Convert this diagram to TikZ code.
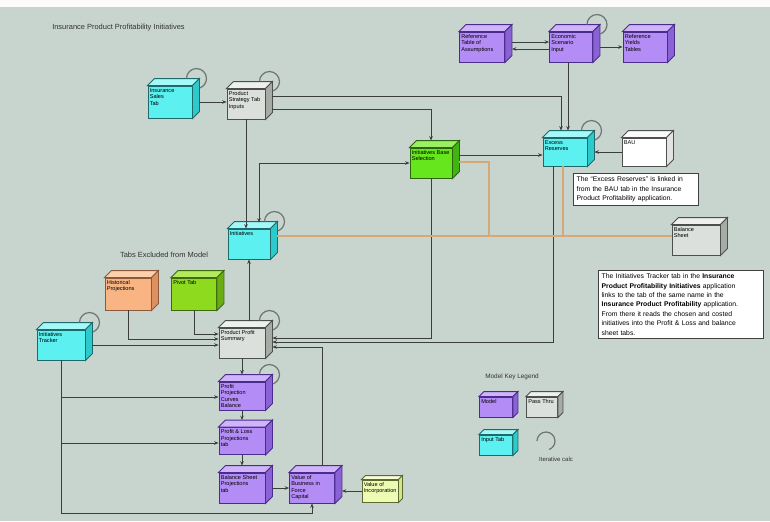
\documentclass[tikz,border=0pt]{standalone}
\usepackage{fontspec}
\setmainfont{Liberation Sans}
\usetikzlibrary{calc,arrows.meta}

% cube palettes: F front, T top, S side, D outline
\definecolor{cyF}{HTML}{5CF0F0}\definecolor{cyT}{HTML}{A4F8F8}\definecolor{cyS}{HTML}{2CCACA}\definecolor{cyD}{HTML}{1E6A6A}
\definecolor{puF}{HTML}{B48CF6}\definecolor{puT}{HTML}{CFB4FA}\definecolor{puS}{HTML}{8A62D6}\definecolor{puD}{HTML}{4A2C8C}
\definecolor{grF}{HTML}{DCE0DC}\definecolor{grT}{HTML}{EEF0EE}\definecolor{grS}{HTML}{A6ABA6}\definecolor{grD}{HTML}{4C504C}
\definecolor{gnF}{HTML}{66E61C}\definecolor{gnT}{HTML}{9AF062}\definecolor{gnS}{HTML}{42B410}\definecolor{gnD}{HTML}{2C6410}
\definecolor{orF}{HTML}{F8B482}\definecolor{orT}{HTML}{FBD0AA}\definecolor{orS}{HTML}{DE9060}\definecolor{orD}{HTML}{8A5A3A}
\definecolor{lgF}{HTML}{8EDA1E}\definecolor{lgT}{HTML}{B2EA5C}\definecolor{lgS}{HTML}{68AE12}\definecolor{lgD}{HTML}{3E6A10}
\definecolor{whF}{HTML}{FFFFFF}\definecolor{whT}{HTML}{FAFAFA}\definecolor{whS}{HTML}{E2E4E2}\definecolor{whD}{HTML}{505050}
\definecolor{ylF}{HTML}{EEFBB2}\definecolor{ylT}{HTML}{F6FDD4}\definecolor{ylS}{HTML}{D2E48C}\definecolor{ylD}{HTML}{5A6A30}
\definecolor{bgc}{HTML}{C8D4CE}
\definecolor{linec}{HTML}{3A3E3C}
\definecolor{tanc}{HTML}{D6A878}
\definecolor{loopg}{HTML}{707472}

\tikzset{
  cubeface/.style={rectangle,inner sep=0pt,line width=0.7pt},
  cubeline/.style={line width=0.7pt},
  cubelabel/.style={anchor=north west,inner sep=0pt,align=left,
    font=\fontsize{4.2}{4.9}\selectfont,text=black},
  link/.style={draw=linec,line width=0.6pt,-{Stealth[length=3.2pt,width=2.6pt]}},
  linkboth/.style={draw=linec,line width=0.6pt,{Stealth[length=3.2pt,width=2.6pt]}-{Stealth[length=3.2pt,width=2.6pt]}},
  tanline/.style={draw=tanc,line width=0.9pt},
  loopc/.style={draw=loopg,line width=0.9pt},
  notebox/.style={draw=black!75,fill=white,line width=0.5pt,anchor=north west,
    align=left,inner sep=2.5pt,font=\fontsize{5.1}{7.1}\selectfont},
  caption/.style={font=\fontsize{5.6}{6.5}\selectfont,inner sep=0pt,text=black!80}
}

% a 3-D box: name, cx, cy, width, height, palette, text, depth
\newcommand{\cubebox}[8]{%
  \node[cubeface,fill=#6F,draw=#6D,minimum width={#4*0.75pt},minimum height={#5*0.75pt}] (#1) at (#2,#3) {};
  \filldraw[fill=#6T,draw=#6D,cubeline] (#1.north west) -- ++(#8,-#8) -- ($(#1.north east)+(#8,-#8)$) -- (#1.north east) -- cycle;
  \filldraw[fill=#6S,draw=#6D,cubeline] (#1.north east) -- ++(#8,-#8) -- ($(#1.south east)+(#8,-#8)$) -- (#1.south east) -- cycle;
  \node[cubelabel] (#1-t) at ($(#1.north west)+(2,2.5)$) {#7};
}
% self-reference loop on the top right corner
\newcommand{\selfloop}[1]{%
  \draw[loopc] ($(#1.north east)+(4,-7)+(-10,0)$) arc[start angle=180,end angle=430,radius=10];
}

\begin{document}
\begin{tikzpicture}[x=0.75pt,y=-0.75pt]
\path[use as bounding box] (0,0) rectangle (770,521);
\fill[bgc] (0,0) rectangle (770,521);
\fill[white!92!bgc] (0,0) rectangle (770,7);

\node[caption,anchor=west] (title) at (52,28) {Insurance Product Profitability Initiatives};

% ---- boxes ----
\cubebox{sales}{170}{102}{44}{32}{cy}{Insurance\\Sales\\Tab}{7}
\cubebox{strategy}{246}{104}{38}{30}{gr}{Product\\Strategy Tab\\Inputs}{7}
\cubebox{refassump}{482}{47}{45}{30}{pu}{Reference\\Table of\\Assumptions}{7}
\cubebox{scenario}{571}{47}{43}{30}{pu}{Economic\\Scenario\\Input}{7}
\cubebox{yields}{645}{47}{44}{30}{pu}{Reference\\Yields\\Tables}{7}
\cubebox{basesel}{431}{163}{42}{30}{gn}{Initiatives Base\\Selection}{7}
\cubebox{excess}{565}{152}{44}{28}{cy}{Excess\\Reserves}{7}
\cubebox{bau}{644}{152}{44}{28}{wh}{BAU}{7}
\cubebox{initiatives}{249}{244}{42}{30}{cy}{Initiatives}{7}
\cubebox{balsheet}{696}{240}{48}{30}{gr}{Balance\\Sheet}{7}
\cubebox{historical}{128}{294}{46}{32}{or}{Historical\\Projections}{7}
\cubebox{pivot}{194}{294}{45}{32}{lg}{Pivot Tab}{7}
\cubebox{tracker}{61}{345}{48}{30}{cy}{Initiatives\\Tracker}{7}
\cubebox{summary}{242}{343}{46}{30}{gr}{Product Profit\\Summary}{7}
\cubebox{curves}{242}{396}{46}{28}{pu}{Profit\\Projection\\Curves\\Balance}{7}
\cubebox{pnl}{242}{441}{46}{27}{pu}{Profit \& Loss\\Projections\\tab}{7}
\cubebox{bsproj}{242}{488}{46}{30}{pu}{Balance Sheet\\Projections\\tab}{7}
\cubebox{vobif}{312}{488}{45}{30}{pu}{Value of\\Business in\\Force\\Capital}{7}
\cubebox{incorp}{380}{491}{36}{22}{yl}{Value of\\Incorporation}{4}

\selfloop{sales}
\selfloop{strategy}
\selfloop{scenario}
\selfloop{excess}
\selfloop{initiatives}
\selfloop{tracker}
\selfloop{summary}
\selfloop{curves}

\node[caption,anchor=center] (excluded) at (164,255) {Tabs Excluded from Model};

% ---- notes ----
\node[notebox,text width={118*0.75pt}] (note1) at (573,173)
  {The ``Excess Reserves'' is linked in\\from the BAU tab in the Insurance\\Product Profitability application.};
\node[notebox,text width={158*0.75pt}] (note2) at (598,270)
  {The Initiatives Tracker tab in the \textbf{Insurance}\\
   \textbf{Product Profitability Initiatives} application\\
   links to the tab of the same name in the\\
   \textbf{Insurance Product Profitability} application.\\
   From there it reads the chosen and costed\\
   initiatives into the Profit \& Loss and balance\\
   sheet tabs.};

% ---- connectors ----
\coordinate (j2) at (561,96);
\coordinate (j3) at (431,109);
\coordinate (j1) at (259,163);
\coordinate (j4) at (0,155);
\coordinate (j5) at (568,0);
\coordinate (j6) at (431,338);
\coordinate (j7) at (553,342);
\coordinate (j8) at (128,339);
\coordinate (j9) at (194,334);
\coordinate (j10) at (61,513);
\coordinate (j12) at (61,397);
\coordinate (j13) at (61,443);
\coordinate (j14) at (322,347);
\coordinate (t1) at (489,162);
\coordinate (t2) at (489,236);
\coordinate (t3) at (563,236);

\draw[link] ($(sales.east)+(7,0)$) -- (sales.east -| strategy.west);
\draw[link] (strategy.south) -- (strategy.south |- initiatives.north);
\draw[linkboth] (basesel.west |- j1) -- (j1) -- ($(j1 |- initiatives.north)+(0,-6)$);
\draw[link] ($(strategy.east |- j2)+(7,0)$) -- (j2) -- ($(j2 |- excess.north)+(0,-7)$);
\draw[link] ($(strategy.east |- j3)+(7,0)$) -- (j3) -- ($(basesel.north)+(0,-7)$);
\draw[link] ($(basesel.east |- j4)+(7,0)$) -- (excess.west |- j4);
\draw[link] (bau.west) -- ($(excess.east)+(7,0)$);
\draw[link] ($(refassump.east)+(7,-5)$) -- ($(scenario.west)+(0,-5)$);
\draw[link] ($(scenario.west)+(0,2)$) -- ($(refassump.east)+(7,2)$);
\draw[link] ($(scenario.east)+(7,0)$) -- (yields.west);
\draw[link] (scenario.south -| j5) -- ($(excess.north -| j5)+(0,-7)$);
\draw[link] (basesel.south) -- (j6) -- ($(summary.east |- j6)+(7,0)$);
\draw[link] (excess.south -| j7) -- (j7) -- ($(summary.east |- j7)+(7,0)$);
\draw[link] ($(summary.north -| initiatives.south)+(0,-7)$) -- (initiatives.south);
\draw[link] (historical.south) -- (j8) -- (summary.west |- j8);
\draw[link] (pivot.south) -- (j9) -- (summary.west |- j9);
\draw[link] ($(tracker.east)+(7,0)$) -- (summary.west |- tracker.east);
\draw[link] (summary.south) -- ($(curves.north)+(0,-7)$);
\draw[link] (curves.south) -- ($(pnl.north)+(0,-7)$);
\draw[link] (pnl.south) -- ($(bsproj.north)+(0,-7)$);
\draw[link] (tracker.south) -- (j10) -- (vobif.south |- j10) -- (vobif.south);
\draw[link] (j12) -- (curves.west |- j12);
\draw[link] (j13) -- (pnl.west |- j13);
\draw[link] ($(bsproj.east)+(7,0)$) -- (vobif.west);
\draw[link] (incorp.west) -- ($(vobif.east |- incorp.west)+(7,0)$);
\draw[link] ($(vobif.north -| j14)+(0,-7)$) -- (j14) -- ($(summary.east |- j14)+(7,0)$);

\draw[tanline] ($(basesel.east |- t1)+(7,0)$) -- (t1) -- (t2);
\draw[tanline] ($(initiatives.east |- t2)+(7,0)$) -- (balsheet.west |- t2);
\draw[tanline] (excess.south -| t3) -- (t3);

% ---- legend ----
\node[caption,anchor=center,font=\fontsize{4.8}{5.5}\selectfont] (legtitle) at (512,377) {Model Key Legend};
\cubebox{legmodel}{496}{407}{33}{20}{pu}{Model}{5}
\cubebox{legpass}{542}{407}{31}{20}{gr}{Pass Thru}{5}
\cubebox{leginput}{496}{445}{33}{20}{cy}{Input Tab}{5}
\coordinate (legloop) at (546,441);
\draw[loopc] ($(legloop)+(-9,0)$) arc[start angle=180,end angle=430,radius=9];
\node[caption,anchor=center,font=\fontsize{4.5}{5}\selectfont] (legiter) at (556,459) {Iterative calc};
\end{tikzpicture}
\end{document}
